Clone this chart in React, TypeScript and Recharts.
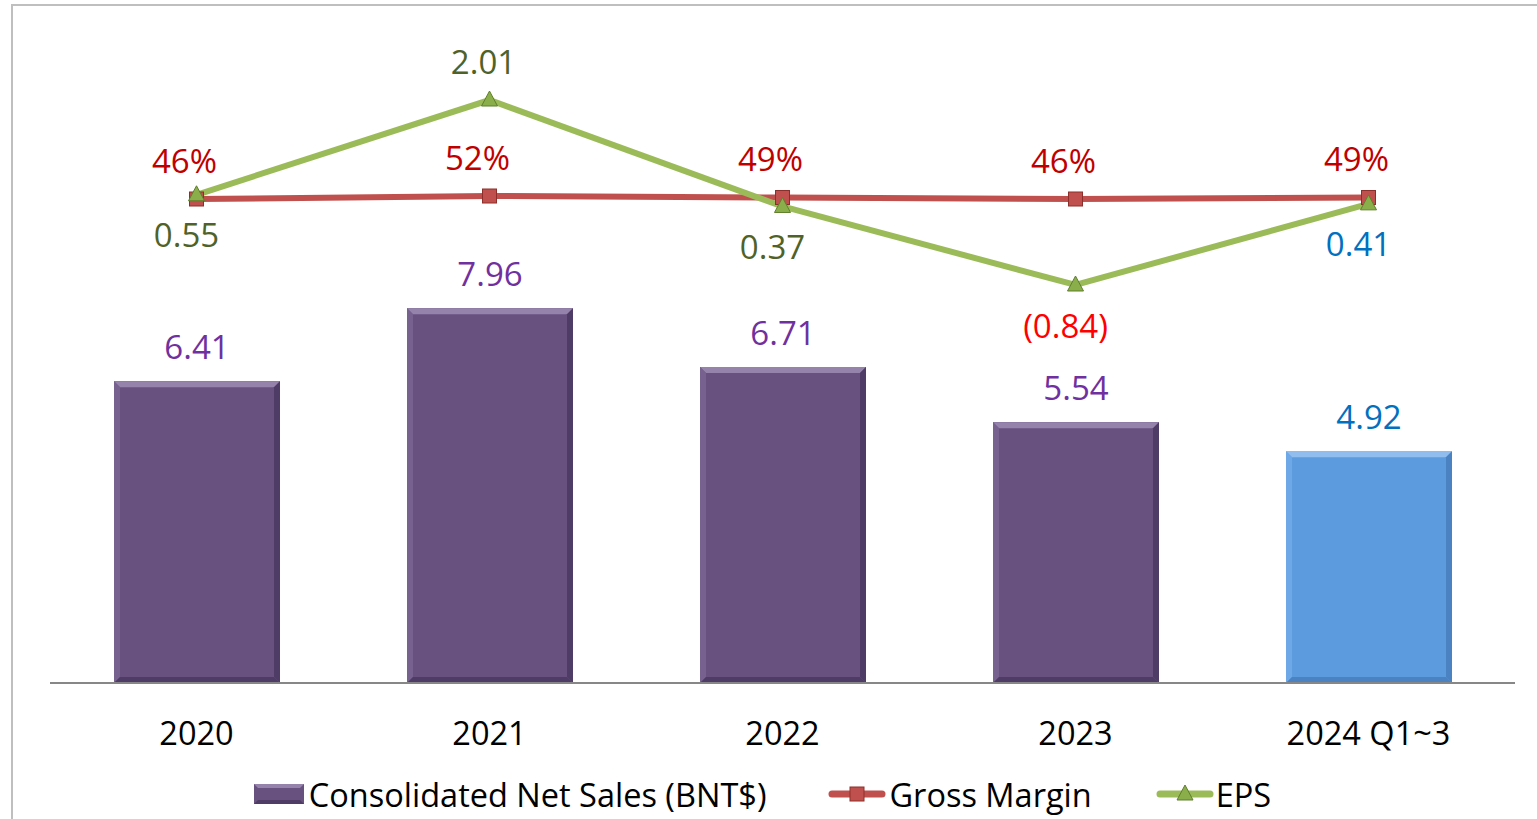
import React from 'react';
import { ComposedChart, Bar, Line, XAxis, YAxis, Legend, LabelList } from 'recharts';

const years = ['2020', '2021', '2022', '2023', '2024 Q1~3'];
const netSales = [6.41, 7.96, 6.71, 5.54, 4.92];
const grossMargin = [46, 52, 49, 46, 49];
const eps = [0.55, 2.01, 0.37, -0.84, 0.41];

const data = years.map((year, i) => ({
  year,
  sales: netSales[i],
  gm: grossMargin[i],
  eps: eps[i],
}));

const FONT = '"Open Sans", "Noto Sans", sans-serif';
const lastIdx = years.length - 1;

const BevelBar = (props: any) => {
  const { x, y, width, height, index } = props;
  if (!height || height <= 0) return null;
  const last = index === lastIdx;
  const base = last ? '#5B9BDE' : '#68507F';
  const light = last ? '#90BDEE' : '#9583AC';
  const side = last ? '#6FA8E6' : '#77628F';
  const dark = last ? '#4A82C2' : '#4F3C66';
  const b = 6;
  const r = x + width;
  const bt = y + height;
  return (
    <g>
      <rect x={x} y={y} width={width} height={height} fill={base} />
      <polygon points={`${x},${y} ${r},${y} ${r - b},${y + b} ${x + b},${y + b}`} fill={light} />
      <polygon points={`${x},${y} ${x + b},${y + b} ${x + b},${bt - b} ${x},${bt}`} fill={side} />
      <polygon points={`${r},${y} ${r - b},${y + b} ${r - b},${bt - b} ${r},${bt}`} fill={dark} />
      <polygon points={`${x},${bt} ${x + b},${bt - b} ${r - b},${bt - b} ${r},${bt}`} fill={dark} />
    </g>
  );
};

const SquareDot = (props: any) => {
  const { cx, cy, index } = props;
  if (cx == null || cy == null) return null;
  return (
    <rect key={`sq-${index}`} x={cx - 7} y={cy - 7} width={14} height={14} fill="#C0504D" stroke="#8E2E2B" strokeWidth={1} />
  );
};

const TriangleDot = (props: any) => {
  const { cx, cy, index } = props;
  if (cx == null || cy == null) return null;
  return (
    <polygon
      key={`tr-${index}`}
      points={`${cx},${cy - 9} ${cx + 8},${cy + 6} ${cx - 8},${cy + 6}`}
      fill="#8AAE4A"
      stroke="#5F7F2C"
      strokeWidth={1}
    />
  );
};

const salesLabel = (p: any) => {
  const color = p.index === lastIdx ? '#0070C0' : '#7030A0';
  return (
    <text x={p.x + p.width / 2} y={p.y - 35} textAnchor="middle" dominantBaseline="central" fill={color} fontSize={33} fontFamily={FONT}>
      {Number(p.value).toFixed(2)}
    </text>
  );
};

const gmLabel = (p: any) => (
  <text x={p.x - 12} y={p.y - 39} textAnchor="middle" dominantBaseline="central" fill="#C00000" fontSize={33} fontFamily={FONT}>
    {`${p.value}%`}
  </text>
);

const epsLabel = (p: any) => {
  const v = Number(p.value);
  const isMax = v === Math.max(...eps);
  let color = '#4F6228';
  if (v < 0) color = '#FF0000';
  else if (p.index === lastIdx) color = '#0070C0';
  const text = v < 0 ? `(${Math.abs(v).toFixed(2)})` : v.toFixed(2);
  return (
    <text
      x={p.x - (isMax ? 6 : 10)}
      y={isMax ? p.y - 39 : p.y + 40}
      textAnchor="middle"
      dominantBaseline="central"
      fill={color}
      fontSize={33}
      fontFamily={FONT}
    >
      {text}
    </text>
  );
};

const YearTick = (p: any) => (
  <text x={p.x} y={p.y + 49} textAnchor="middle" dominantBaseline="central" fill="#000" fontSize={32.5} fontFamily={FONT}>
    {p.payload.value}
  </text>
);

const LineIcon = ({ color, marker }: { color: string; marker: 'square' | 'triangle' }) => (
  <svg width={58} height={20} style={{ display: 'block' }}>
    <line x1={4} y1={10} x2={54} y2={10} stroke={color} strokeWidth={7} strokeLinecap="round" />
    {marker === 'square' ? (
      <rect x={22} y={3} width={14} height={14} fill="#C0504D" stroke="#8E2E2B" strokeWidth={1} />
    ) : (
      <polygon points="29,1 37,16 21,16" fill="#8AAE4A" stroke="#5F7F2C" strokeWidth={1} />
    )}
  </svg>
);

const LegendRow = () => (
  <div
    style={{
      display: 'flex',
      justifyContent: 'center',
      alignItems: 'center',
      height: 50,
      fontFamily: FONT,
      fontSize: 32.5,
      color: '#000',
      paddingRight: 12,
    }}
  >
    <div style={{ display: 'flex', alignItems: 'center' }}>
      <svg width={50} height={20} style={{ display: 'block', marginRight: 5 }}>
        <rect x={0} y={0} width={50} height={20} fill="#68507F" />
        <polygon points="0,0 50,0 46,4 4,4" fill="#9583AC" />
        <polygon points="0,20 4,16 46,16 50,20" fill="#4F3C66" />
      </svg>
      <span>Consolidated Net Sales (BNT$)</span>
    </div>
    <div style={{ display: 'flex', alignItems: 'center', marginLeft: 62 }}>
      <LineIcon color="#C0504D" marker="square" />
      <span style={{ marginLeft: 3 }}>Gross Margin</span>
    </div>
    <div style={{ display: 'flex', alignItems: 'center', marginLeft: 64 }}>
      <LineIcon color="#9BBB59" marker="triangle" />
      <span style={{ marginLeft: 2 }}>EPS</span>
    </div>
  </div>
);

export default function App() {
  return (
    <div style={{ position: 'absolute', left: 0, top: 0, width: 1537, height: 819, overflow: 'hidden', background: '#fff' }}>
      <div
        style={{
          position: 'absolute',
          left: 11,
          top: 4,
          width: 1600,
          height: 900,
          borderTop: '2px solid #BFBFBF',
          borderLeft: '2px solid #BFBFBF',
        }}
      />
      <div style={{ position: 'absolute', left: 0, top: 0 }}>
        <ComposedChart width={1537} height={819} data={data} margin={{ top: 20, right: 22, left: 50, bottom: 0 }}>
          <XAxis
            dataKey="year"
            height={86}
            tickLine={false}
            tickSize={0}
            tickMargin={0}
            axisLine={{ stroke: '#878787', strokeWidth: 2 }}
            tick={<YearTick />}
            interval={0}
          />
          <YAxis yAxisId="sales" hide domain={[0, 14.08]} />
          <YAxis yAxisId="gm" hide domain={[-922, 404]} />
          <YAxis yAxisId="eps" hide domain={[-6.972, 3.243]} />
          <Bar yAxisId="sales" dataKey="sales" barSize={166} shape={<BevelBar />} isAnimationActive={false}>
            <LabelList dataKey="sales" content={salesLabel} />
          </Bar>
          <Line
            yAxisId="gm"
            dataKey="gm"
            stroke="#C0504D"
            strokeWidth={6}
            dot={SquareDot}
            activeDot={false}
            isAnimationActive={false}
          >
            <LabelList dataKey="gm" content={gmLabel} />
          </Line>
          <Line
            yAxisId="eps"
            dataKey="eps"
            stroke="#9BBB59"
            strokeWidth={6}
            dot={TriangleDot}
            activeDot={false}
            isAnimationActive={false}
          >
            <LabelList dataKey="eps" content={epsLabel} />
          </Line>
          <Legend verticalAlign="bottom" height={50} wrapperStyle={{ left: 0, width: 1537 }} content={() => <LegendRow />} />
        </ComposedChart>
      </div>
    </div>
  );
}
